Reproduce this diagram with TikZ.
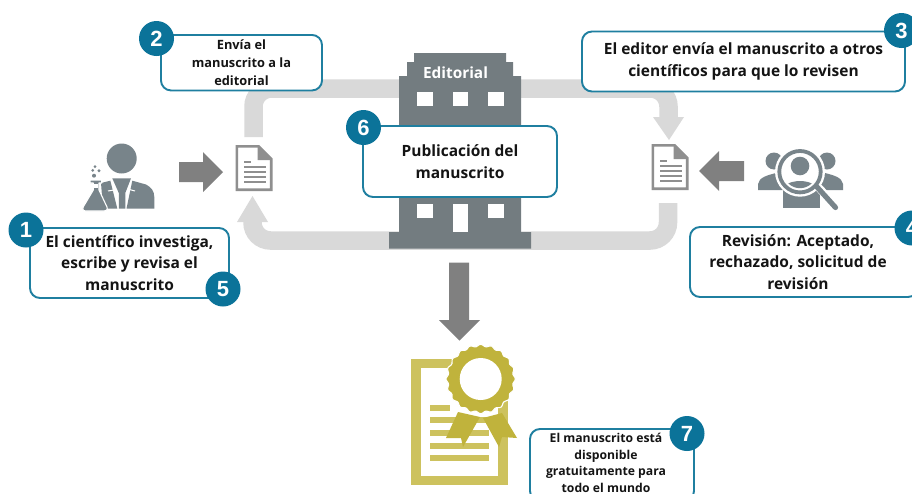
\documentclass[tikz,border=0pt]{standalone}
\usepackage{fontspec}
\setmainfont{Open Sans}
\newfontfamily\digitfont{Liberation Sans}
\definecolor{band}{HTML}{D9D9D9}
\definecolor{arrowgrey}{HTML}{808080}
\definecolor{bldg}{HTML}{737C80}
\definecolor{icongrey}{HTML}{78848A}
\definecolor{docgrey}{HTML}{8F8F8F}
\definecolor{teal}{HTML}{0B7399}
\definecolor{tealline}{HTML}{1F7FA0}
\definecolor{goldA}{HTML}{C0B33C}
\definecolor{goldB}{HTML}{CDC25E}
\definecolor{ink}{HTML}{141414}
\tikzset{
  flowband/.style={draw=band,line width=18.5pt,rounded corners=18pt},
  bighead/.style={fill=band,draw=none},
  greyarrow/.style={fill=arrowgrey,draw=none},
  infobox/.style={draw=tealline,line width=1.9pt,fill=white,rounded corners=10pt,inner sep=0pt,align=center,text=ink},
  bigtext/.style={font=\fontsize{15.5}{21.6}\selectfont\bfseries},
  midtext/.style={font=\fontsize{12.8}{17.6}\selectfont\bfseries},
  smalltext/.style={font=\fontsize{12.2}{16.7}\selectfont\bfseries},
  badge/.style={circle,fill=teal,draw=none,minimum size=35pt,inner sep=0pt,text=white,font=\fontsize{22}{22}\selectfont\digitfont\bfseries},
  docicon/.pic={
    \draw[docgrey,line width=2.6pt,line join=miter,fill=white] (1.3,1.3) -- (23,1.3) -- (35.7,14) -- (35.7,44.7) -- (1.3,44.7) -- cycle;
    \fill[docgrey] (22,1) -- (36,15) -- (22,15) -- cycle;
    \fill[docgrey] (8,16) rectangle (15,17.6);
    \foreach \ly in {21,26,31,36}{\fill[docgrey] (8,\ly) rectangle (30,\ly+1.8);}
  }
}
\begin{document}
\begin{tikzpicture}[x=1pt,y=-1pt]
\useasboundingbox (0,0) rectangle (912,493);
\clip (0,0) rectangle (912,493);
\fill[white] (0,0) rectangle (912,493);

% anchors of the grey cycle
\coordinate (topL) at (253.5,137);
\coordinate (topLc) at (253.5,88.5);
\coordinate (topRc) at (668.5,88.5);
\coordinate (topR) at (668.5,120);
\coordinate (botR) at (668,203);
\coordinate (botRc) at (668,240.5);
\coordinate (botLc) at (252.5,240.5);
\coordinate (botL) at (252.5,220);

\draw[flowband] (topL) -- (topLc) -- (topRc) -- (topR);
\draw[flowband] (botR) -- (botRc) -- (botLc) -- (botL);
\fill[bighead] (653,117) -- (684,117) -- (669,140) -- cycle;
\fill[bighead] (237,222) -- (268,222) -- (252.5,196) -- cycle;

% documents
\pic at (235.5,145) {docicon};
\pic at (651.5,144) {docicon};

% grey arrows
\fill[greyarrow] (179,162) -- (203,162) -- (203,152) -- (223,172) -- (203,192) -- (203,182) -- (179,182) -- cycle;
\fill[greyarrow] (744,161) -- (719,161) -- (719,151) -- (699,171) -- (719,191) -- (719,181) -- (744,181) -- cycle;
\fill[greyarrow] (449,262.5) -- (469,262.5) -- (469,320) -- (480,320) -- (459.5,340.5) -- (439,320) -- (449,320) -- cycle;

% building
\fill[bldg] (414,53) -- (506,53) -- (506,62) -- (513,62) -- (513,76) -- (521,76) -- (521,232) -- (531,232) -- (531,248.5) -- (389,248.5) -- (389,232) -- (399,232) -- (399,76) -- (407,76) -- (407,62) -- (414,62) -- cycle;
\foreach \wx in {417,452.5,488}{\fill[white] (\wx,92) rectangle (\wx+15.5,106);}
\foreach \wx in {417,488}{\fill[white] (\wx,204) rectangle (\wx+15.5,218);}
\fill[white] (452.5,204) rectangle (467.5,232);
\node[text=white,font=\fontsize{15.4}{17}\selectfont\bfseries,inner sep=0pt] (editorial) at (455.5,73) {Editorial};

% scientist
\fill[icongrey] (121.7,158.5) circle (15);
\fill[icongrey] (112.3,178.3) -- (131,178.3) -- (125.3,193) -- (125.3,208.6) -- (118.8,208.6) -- (118.8,193) -- cycle;
\fill[icongrey] (101,183) -- (110.3,180.7) -- (117.3,208.6) -- (103,208.6) -- cycle;
\fill[icongrey] (132.3,180.7) -- (146,184.5) .. controls (151,187) and (154.3,191) .. (154.3,197) -- (154.3,208.6) -- (126.5,208.6) -- cycle;
\draw[white,line width=1pt] (108,191) -- (114,190) (135,191) -- (129.5,189.5);
\draw[white,line width=1.1pt,fill=icongrey,line join=round] (90,180) -- (101.7,180) -- (101.7,183) -- (99,183) -- (99,190) -- (107,207) .. controls (108,210) and (106,211) .. (104,211) -- (86,211) .. controls (83,211) and (82,209) .. (83.5,206.5) -- (93.3,190) -- (93.3,183) -- (90,183) -- cycle;
\fill[white] (94.3,183.5) rectangle (98.3,188);
\fill[icongrey] (95,166.7) circle (1.5) (92.7,170.3) circle (1.5) (99,170.7) circle (1.7) (94,175.7) circle (2);

% reviewers
\fill[icongrey] (774,161) circle (8.5) (827,161) circle (8.5);
\fill[icongrey] (758,190) -- (758,184) .. controls (759,177) and (768,175) .. (780,172) -- (785,190) -- cycle;
\fill[icongrey] (843,190) -- (843,184) .. controls (842,177) and (833,175) .. (821,172) -- (816,190) -- cycle;
\fill[icongrey] (783,185) rectangle (820,208);
\fill[white] (800,171.7) circle (25);
\draw[white,line width=8pt,line cap=round] (819,188) -- (837,207);
\draw[icongrey,line width=3.8pt] (800,171.7) circle (20.7);
\draw[icongrey,line width=5.2pt,line cap=round] (817,187) -- (835.5,207.5);
\fill[icongrey] (800,166) circle (9.3);
\begin{scope}
\clip (800,171.7) circle (16.5);
\fill[icongrey] (800,195) ellipse (21 and 14);
\end{scope}

% certificate
\fill[goldB] (411,359) rectangle (508,485);
\fill[white] (421,368) rectangle (498,476);
\fill[goldB] (430,405) rectangle (450,411);
\foreach \ly in {417,430,443,455}{\fill[goldB] (430,\ly) rectangle (489,\ly+6);}
\fill[goldA] (458,412) -- (480,417) -- (463,447) -- (461,438) -- (446,438) -- cycle;
\fill[goldA] (483,418) -- (502,413) -- (517,438) -- (502,437) -- (499,447) -- cycle;
\draw[white,line width=1.1pt,fill=goldA] plot[smooth cycle,samples=121,domain=0:357,variable=\t] ({480.7+(33.6+1.1*cos(20*\t))*cos(\t)},{379+(33.6+1.1*cos(20*\t))*sin(\t)});
\fill[white] (480.7,379) circle (21);

% text boxes and badges
\node[infobox,bigtext,minimum width=199pt,minimum height=70pt] (box1) at (129.5,263) {El científico investiga,\\escribe y revisa el\\manuscrito};
\node[infobox,midtext,minimum width=161pt,minimum height=55.5pt] (box2) at (241.5,62.7) {Envía el\\manuscrito a la\\editorial};
\node[infobox,bigtext,minimum width=323pt,minimum height=60pt] (box3) at (743.5,61.5) {El editor envía el manuscrito a otros\\científicos para que lo revisen};
\node[infobox,minimum width=228pt,minimum height=70pt] (box4) at (804,262) {};
\node[bigtext,align=center,text=ink,inner sep=0pt] (text4) at (798,262) {Revisión: Aceptado,\\rechazado, solicitud de\\revisión};
\node[infobox,bigtext,minimum width=194pt,minimum height=71pt] (box6) at (460,161.5) {Publicación del\\manuscrito};
\node[infobox,minimum width=164pt,minimum height=72pt] (box7) at (612,465) {};
\node[smalltext,align=center,text=ink,inner sep=0pt] (text7) at (606,463) {El manuscrito está\\disponible\\gratuitamente para\\todo el mundo};

\node[badge] (n1) at (26,230) {1};
\node[badge] (n2) at (156.5,38.5) {2};
\node[badge] (n3) at (901.5,30.5) {3};
\node[badge] (n4) at (912,228) {4};
\node[badge] (n5) at (223,289) {5};
\node[badge] (n6) at (363.5,127.5) {6};
\node[badge] (n7) at (687,433.5) {7};
\end{tikzpicture}
\end{document}
